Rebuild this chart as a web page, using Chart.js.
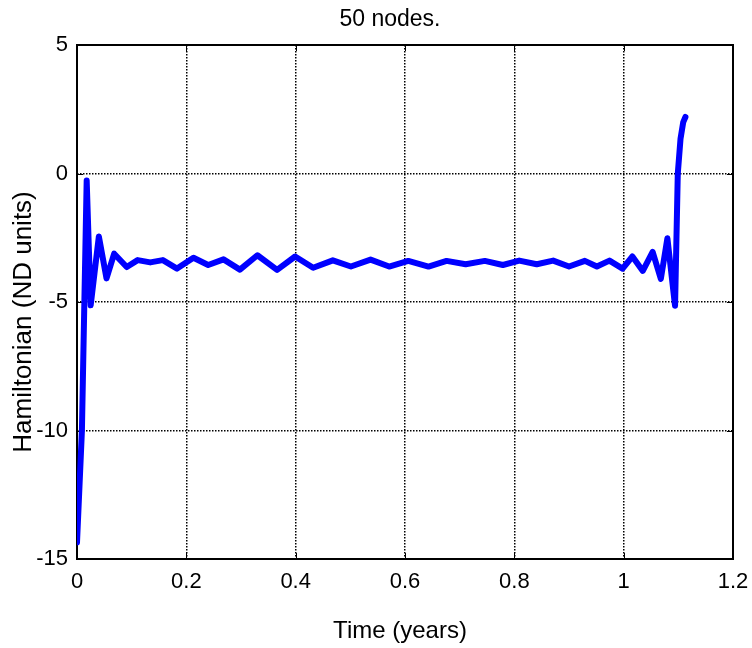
<!DOCTYPE html>
<html>
<head>
<meta charset="utf-8">
<script src="https://cdn.jsdelivr.net/npm/chart.js@4.4.1/dist/chart.umd.min.js"></script>
<style>
  html, body { margin: 0; padding: 0; background: #ffffff; }
  #wrap { width: 752px; height: 648px; }
</style>
</head>
<body>
<div id="wrap"><canvas id="c" width="752" height="648"></canvas></div>
<script>
// ---- data ----
const timeYears = [0, 0.009, 0.0177, 0.025, 0.040, 0.054, 0.068, 0.091, 0.111, 0.134,
  0.157, 0.183, 0.213, 0.240, 0.268, 0.298, 0.330, 0.366, 0.399, 0.432,
  0.468, 0.501, 0.537, 0.571, 0.606, 0.643, 0.676, 0.711, 0.746, 0.779,
  0.809, 0.841, 0.871, 0.900, 0.929, 0.951, 0.974, 0.998, 1.016, 1.035,
  1.053, 1.068, 1.080, 1.094, 1.099, 1.104, 1.109, 1.113];
const hamiltonian = [-14.35, -10.0, -0.27, -5.13, -2.45, -4.08, -3.12, -3.64, -3.37, -3.46,
  -3.37, -3.70, -3.28, -3.56, -3.34, -3.74, -3.18, -3.75, -3.23, -3.67,
  -3.38, -3.62, -3.35, -3.62, -3.40, -3.62, -3.40, -3.53, -3.40, -3.56,
  -3.39, -3.53, -3.39, -3.62, -3.40, -3.62, -3.39, -3.70, -3.23, -3.79,
  -3.05, -4.10, -2.52, -5.15, 0.0, 1.35, 2.0, 2.2];
const xTickValues = [0, 0.2, 0.4, 0.6, 0.8, 1, 1.2];
const yTickValues = [-15, -10, -5, 0, 5];
const chartTitle = '50 nodes.';
const xAxisTitle = 'Time (years)';
const yAxisTitle = 'Hamiltonian (ND units)';

const points = timeYears.map((t, i) => ({ x: t, y: hamiltonian[i] }));
const FONT = "'Liberation Sans', Arial, sans-serif";

const matlabBox = {
  id: 'matlabBox',
  beforeDatasetsDraw(chart) {
    const { ctx, chartArea: a, scales } = chart;
    ctx.save();
    ctx.strokeStyle = '#000';
    ctx.lineWidth = 1;
    ctx.setLineDash([]);
    const tl = 6;
    ctx.beginPath();
    xTickValues.forEach(v => {
      const px = Math.round(scales.x.getPixelForValue(v)) + 0.5;
      ctx.moveTo(px, a.bottom); ctx.lineTo(px, a.bottom - tl);
      ctx.moveTo(px, a.top); ctx.lineTo(px, a.top + tl);
    });
    yTickValues.forEach(v => {
      const py = Math.round(scales.y.getPixelForValue(v)) + 0.5;
      ctx.moveTo(a.left, py); ctx.lineTo(a.left + tl, py);
      ctx.moveTo(a.right, py); ctx.lineTo(a.right - tl, py);
    });
    ctx.stroke();
    ctx.lineWidth = 2;
    ctx.strokeRect(a.left, a.top, a.right - a.left, a.bottom - a.top);
    ctx.restore();
  },
  afterDraw(chart) {
    const { ctx, chartArea: a } = chart;
    ctx.save();
    ctx.fillStyle = '#000';
    ctx.textAlign = 'center';
    ctx.textBaseline = 'middle';
    ctx.font = '23px ' + FONT;
    ctx.fillText(chartTitle, 390, 20);
    ctx.font = '24px ' + FONT;
    ctx.fillText(xAxisTitle, 400, 631);
    ctx.translate(24, 322);
    ctx.rotate(-Math.PI / 2);
    ctx.font = '26px ' + FONT;
    ctx.fillText(yAxisTitle, 0, 0);
    ctx.restore();
  }
};

new Chart(document.getElementById('c'), {
  type: 'scatter',
  data: {
    datasets: [{
      data: points,
      showLine: true,
      borderColor: '#0000ff',
      backgroundColor: '#0000ff',
      borderWidth: 6,
      borderCapStyle: 'round',
      borderJoinStyle: 'round',
      pointRadius: 0,
      tension: 0
    }]
  },
  options: {
    responsive: false,
    animation: false,
    layout: { autoPadding: false, padding: { top: 45, right: 19, left: 0, bottom: 0 } },
    plugins: { legend: { display: false }, title: { display: false }, tooltip: { enabled: false } },
    scales: {
      x: {
        type: 'linear', min: 0, max: 1.2,
        afterBuildTicks(scale) { scale.ticks = xTickValues.map(v => ({ value: v })); },
        afterFit(scale) { scale.height = 89; scale.paddingLeft = 0; scale.paddingRight = 0; },
        ticks: { color: '#000', padding: 10, font: { family: FONT, size: 22 }, maxRotation: 0,
          callback: v => String(v) },
        grid: { color: '#000', lineWidth: 1.5, drawTicks: false },
        border: { display: false, dash: [1.5, 1.5] }
      },
      y: {
        type: 'linear', min: -15, max: 5,
        afterBuildTicks(scale) { scale.ticks = yTickValues.map(v => ({ value: v })); },
        afterFit(scale) { scale.width = 77; scale.paddingTop = 0; scale.paddingBottom = 0; },
        ticks: { color: '#000', padding: 9, font: { family: FONT, size: 22 },
          callback: v => String(v) },
        grid: { color: '#000', lineWidth: 1.5, drawTicks: false },
        border: { display: false, dash: [1.5, 1.5] }
      }
    }
  },
  plugins: [matlabBox]
});
</script>
</body>
</html>
